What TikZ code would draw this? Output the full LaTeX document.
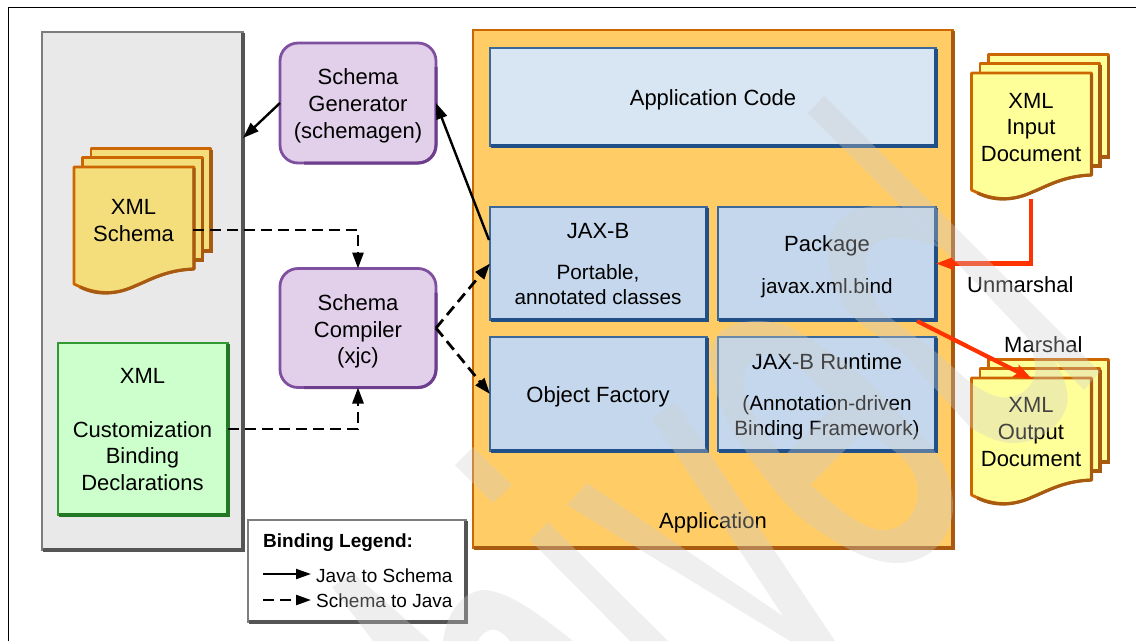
\documentclass[tikz,border=0pt]{standalone}
\usepackage{fontspec}
\setmainfont{Liberation Sans}
\usetikzlibrary{arrows.meta}
\definecolor{panelfill}{RGB}{233,233,233}
\definecolor{panelline}{RGB}{125,125,125}
\definecolor{paneldark}{RGB}{85,85,85}
\definecolor{appfill}{RGB}{255,204,102}
\definecolor{appline}{RGB}{204,102,0}
\definecolor{appdark}{RGB}{168,90,16}
\definecolor{bluefill}{RGB}{197,215,236}
\definecolor{bluelight}{RGB}{216,229,242}
\definecolor{blueline}{RGB}{58,104,155}
\definecolor{bluedark}{RGB}{32,80,135}
\definecolor{purplefill}{RGB}{226,208,234}
\definecolor{purpleline}{RGB}{128,80,160}
\definecolor{purpledark}{RGB}{110,62,142}
\definecolor{greenfill}{RGB}{204,255,204}
\definecolor{greenline}{RGB}{51,153,51}
\definecolor{greendark}{RGB}{34,120,34}
\definecolor{schemafill}{RGB}{244,222,124}
\definecolor{docfill}{RGB}{255,255,153}
\definecolor{redline}{RGB}{255,51,0}
\definecolor{wm}{RGB}{206,206,206}
\tikzset{
  boxbase/.style={inner sep=0pt,outer sep=0pt,line width=2.8pt},
  panelbox/.style={boxbase,draw=panelline,fill=panelfill},
  appbox/.style={boxbase,draw=appline,fill=appfill},
  bluebox/.style={boxbase,draw=blueline,fill=bluefill},
  toolbox/.style={boxbase,draw=purpleline,fill=purplefill,rounded corners=18pt,minimum width=156pt},
  greenbox/.style={boxbase,draw=greenline,fill=greenfill},
  legendbox/.style={boxbase,draw=panelline,fill=white},
  big/.style={inner sep=0pt,font=\fontsize{22}{26.6}\selectfont,align=center},
  small/.style={inner sep=0pt,font=\fontsize{20.7}{25}\selectfont,align=center},
  leg/.style={inner sep=0pt,font=\fontsize{19}{23}\selectfont,anchor=base west},
  solidarrow/.style={line width=2.4pt,-{Triangle[length=16pt,width=11pt]}},
  dasharrow/.style={line width=2.8pt,dash pattern=on 11pt off 6pt,-{Triangle[length=16pt,width=11pt]}},
  legsolid/.style={line width=2pt,-{Triangle[length=15pt,width=10pt]}},
  legdash/.style={line width=2.2pt,dash pattern=on 11pt off 6pt,-{Triangle[length=15pt,width=10pt]}},
  redarrow/.style={draw=redline,line width=4.2pt,-{Stealth[length=18pt,width=13pt,inset=3pt]}},
  docline/.style={line width=2.8pt,draw=appline,line join=round},
}
% right and lower edge of a box, in the darker colour
\newcommand{\bevel}[2]{\draw[#2,line width=3.2pt] ([yshift=-1pt]#1.north east) -- (#1.south east) -- ([xshift=1pt]#1.south west);}
\newcommand{\rbevel}[1]{\draw[purpledark,line width=3pt,rounded corners=18pt] ([yshift=-24pt]#1.north east) -- (#1.south east) -- ([xshift=24pt]#1.south west);}
% a stack of three pages; #1 = top left corner of the front page, #2 = fill
\newcommand{\docstack}[2]{%
  \begin{scope}[shift={#1}]
    \draw[docline,fill=#2] (17,-18.5) rectangle (137,84);
    \draw[appdark,line width=3.2pt] (137,-17.5) -- (137,84) -- (126,84);
    \draw[docline,fill=#2] (8.5,-9.5) rectangle (128.5,93);
    \draw[appdark,line width=3.2pt] (128.5,-8.5) -- (128.5,93) -- (118,93);
    \draw[docline,fill=#2] (0,0) -- (120,0) -- (120,102)
      .. controls (92,103) and (76,113) .. (61,119)
      .. controls (46,126) and (26,130) .. (0,117) -- cycle;
    \draw[appdark,line width=3.2pt,line join=round] (120,1) -- (120,102)
      .. controls (92,103) and (76,113) .. (61,119)
      .. controls (46,126) and (26,130) .. (6,120);
  \end{scope}}
\begin{document}
\begin{tikzpicture}[x=1pt,y=-1pt]
\useasboundingbox (0,0) rectangle (1136,641);
% outer frame
\coordinate (fa) at (8,641); \coordinate (fb) at (8,7.5); \coordinate (fc) at (1136,7.5);
\draw[line width=1pt] (fa) -- (fb) -- (fc);

% panels
\node[panelbox,minimum width=201pt,minimum height=518pt] (panel) at (142.5,291) {};
\bevel{panel}{paneldark}
\node[appbox,minimum width=480pt,minimum height=518pt] (app) at (713,289) {};
\bevel{app}{appdark}
\node[bluebox,fill=bluelight,minimum width=446pt,minimum height=98pt] (code) at (713,97) {};
\bevel{code}{bluedark}
\node[bluebox,minimum width=217pt,minimum height=113pt] (jaxb) at (598.5,263.5) {};
\bevel{jaxb}{bluedark}
\node[bluebox,minimum width=218pt,minimum height=113pt] (pkg) at (827,263.5) {};
\bevel{pkg}{bluedark}
\node[bluebox,minimum width=217pt,minimum height=114pt] (objf) at (598.5,394) {};
\bevel{objf}{bluedark}
\node[bluebox,minimum width=218pt,minimum height=114pt] (rt) at (827,394) {};
\bevel{rt}{bluedark}
\node[toolbox,minimum height=120pt] (gen) at (358,103) {};
\rbevel{gen}
\node[toolbox,minimum height=119pt] (comp) at (358,328) {};
\rbevel{comp}
\node[greenbox,minimum width=170pt,minimum height=172pt] (green) at (143,429) {};
\bevel{green}{greendark}
\node[legendbox,minimum width=218pt,minimum height=102pt] (legend) at (357,571) {};
\bevel{legend}{paneldark}

% documents
\docstack{(74,167)}{schemafill}
\docstack{(971.5,73)}{docfill}
\docstack{(971.5,378)}{docfill}

% connector ends
\coordinate (panelin) at (243,138);
\coordinate (jaxbout) at (489,240);
\coordinate (xsout) at (193,230);
\coordinate (inbottom) at (1031,199);
\coordinate (pkgout) at (917,321);
\coordinate (outtop) at (1032,379);
\coordinate (l1a) at (263,574); \coordinate (l1b) at (311,574);
\coordinate (l2a) at (263,600); \coordinate (l2b) at (311,600);

% connectors
\draw[solidarrow] (gen.west) -- (panelin);
\draw[solidarrow] (jaxbout) -- (gen.east);
\draw[dasharrow] (xsout) -| (comp.north);
\draw[dasharrow] (green.east) -| (comp.south);
\draw[dasharrow] (comp.east) -- (jaxb.west);
\draw[dasharrow] (comp.east) -- (objf.west);
\draw[redarrow] (inbottom) |- (pkg.east);
\draw[redarrow] (pkgout) -- (outtop);
\draw[legsolid] (l1a) -- (l1b);
\draw[legdash] (l2a) -- (l2b);

% text
\node[big] (tgen) at (358,105.8) {Schema\\Generator\\(schemagen)};
\node[big] (tcomp) at (358,331.5) {Schema\\Compiler\\(xjc)};
\node[big] (tschema) at (133.5,220.5) {XML\\Schema};
\node[big] (tgreen) at (142.5,429.5) {XML\\[26.7pt]Customization\\Binding\\Declarations};
\node[big] (tin) at (1031,127.5) {XML\\Input\\Document};
\node[big] (tout) at (1031,432) {XML\\Output\\Document};
\node[big,anchor=base] (tcode) at (713,105) {Application Code};
\node[big,anchor=base] (tjaxb) at (598,238) {JAX-B};
\node[small] (tport) at (598,285) {Portable,\\annotated classes};
\node[big,anchor=base] (tpkg) at (827,251) {Package};
\node[small,anchor=base] (tbind) at (827,293) {javax.xml.bind};
\node[big,anchor=base] (tobj) at (598,402) {Object Factory};
\node[big,anchor=base] (trt) at (827,369) {JAX-B Runtime};
\node[small] (tann) at (827,418) {(Annotation-driven\\Binding Framework)};
\node[big,anchor=base] (tapp) at (713,528.5) {Application};
\node[big,anchor=base west] (tun) at (967,292) {Unmarshal};
\node[big,anchor=base west] (tma) at (1004,352) {Marshal};
\node[leg,font=\fontsize{19}{23}\selectfont\bfseries] (tleg) at (263,547) {Binding Legend:};
\node[leg] (tj2s) at (316,582) {Java to Schema};
\node[leg] (ts2j) at (316,607) {Schema to Java};

% draft watermark, over everything
\fill[wm,fill opacity=.33]
  % long diagonal band
  (808,113) -- (824,96) -- (1100,372) -- (1084,390) -- cycle
  % short pieces
  (455,465) -- (473,447) -- (512,485) -- (493,503) -- cycle
  (530,540) -- (548,522) -- (668,641) -- (630,641) -- cycle
  (332,587) -- (353,573) -- (430,641) -- (373,641) -- cycle
  % V shape
  (567,505) -- (587,483) -- (783,616) -- (652,418) -- (675,402) -- (835,641) -- (790,641) -- cycle
  % lower left crescent
  (443,641) .. controls (447,610) and (465,590) .. (485,590)
    .. controls (510,592) and (540,615) .. (573,641)
    -- (510,641) .. controls (503,632) and (495,628) .. (490,630)
    .. controls (484,632) and (480,636) .. (478,641) -- cycle
  % upper bowl
  (828,253) .. controls (828,228) and (842,212) .. (862,208)
    .. controls (875,205) and (890,205) .. (900,207)
    -- (1050,355) .. controls (1062,370) and (1070,390) .. (1067,405)
    .. controls (1062,425) and (1040,443) .. (1013,443)
    .. controls (998,443) and (982,435) .. (970,427)
    -- (903,353) .. controls (885,340) and (862,328) .. (847,310)
    .. controls (836,292) and (828,272) .. (828,253) -- cycle
  (865,260) .. controls (866,280) and (872,298) .. (880,310)
    -- (937,353) .. controls (955,368) and (975,392) .. (1000,397)
    .. controls (1020,400) and (1038,385) .. (1035,365)
    .. controls (1033,350) and (1030,340) .. (1025,335)
    -- (945,250) .. controls (930,243) and (910,237) .. (893,238)
    .. controls (877,239) and (866,248) .. (865,260) -- cycle
  % lower bowl
  (710,353) .. controls (712,338) and (722,328) .. (735,324)
    .. controls (755,318) and (778,322) .. (790,327)
    .. controls (815,340) and (845,362) .. (870,383)
    -- (925,440) .. controls (945,460) and (953,485) .. (953,507)
    .. controls (952,540) and (928,563) .. (897,563)
    .. controls (868,563) and (840,545) .. (813,527)
    .. controls (790,512) and (765,480) .. (745,450)
    .. controls (728,430) and (710,385) .. (710,353) -- cycle
  (743,385) .. controls (746,404) and (762,432) .. (783,457)
    -- (838,402) -- (820,387)
    .. controls (805,372) and (790,358) .. (775,354)
    .. controls (760,352) and (742,362) .. (743,385) -- cycle
  (810,485) .. controls (832,502) and (860,530) .. (883,530)
    .. controls (905,530) and (918,512) .. (918,490)
    .. controls (917,475) and (908,462) .. (897,453)
    -- (865,430) -- cycle;
\end{tikzpicture}
\end{document}
